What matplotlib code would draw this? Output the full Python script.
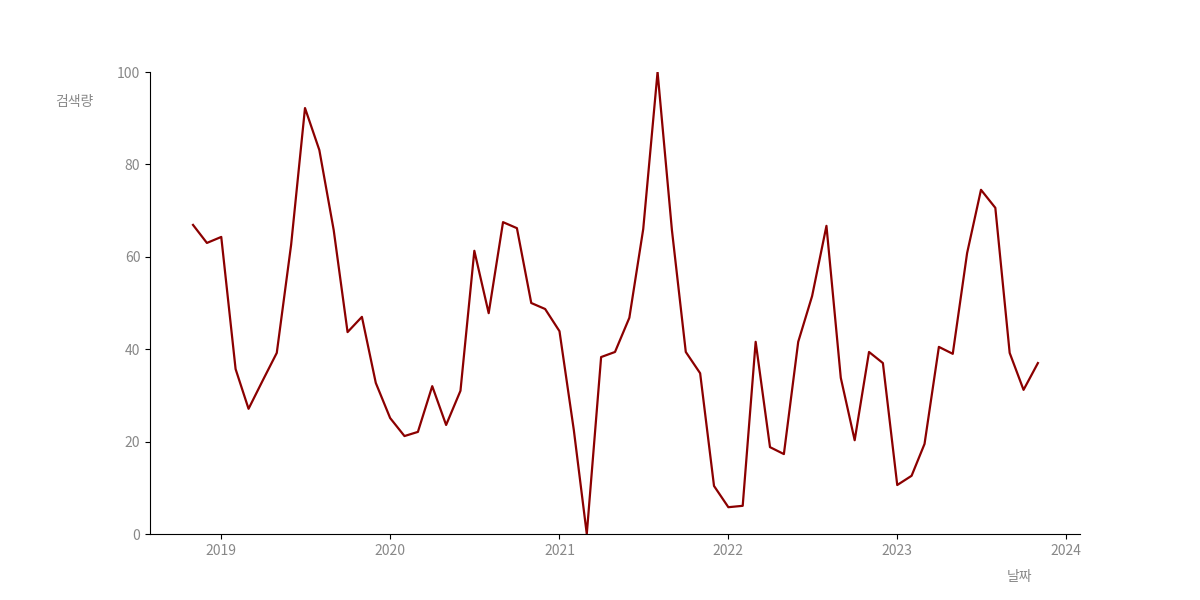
import matplotlib
matplotlib.use('Agg')
import matplotlib.pyplot as plt
import matplotlib.dates as mdates
import pandas as pd

plt.rcParams['font.family'] = ['Noto Sans CJK KR', 'DejaVu Sans']

# 월별 검색량 (2018-11 ~ 2023-11)
months = pd.date_range('2018-11-01', '2023-11-01', freq='MS')
volume = [66.9, 63.0, 64.3, 35.7, 27.1, 33.3, 39.2, 62.6, 92.2, 83.1, 65.8, 43.7,
          47.0, 32.7, 25.1, 21.2, 22.1, 32.0, 23.6, 31.0, 61.3, 47.8, 67.5, 66.2,
          50.0, 48.7, 43.9, 22.5, 0.0, 38.3, 39.4, 46.8, 66.0, 100.0, 65.8, 39.4,
          34.8, 10.4, 5.8, 6.1, 41.6, 18.8, 17.3, 41.6, 51.5, 66.7, 33.8, 20.3,
          39.4, 37.0, 10.6, 12.6, 19.5, 40.5, 39.0, 60.8, 74.5, 70.6, 39.2, 31.2,
          37.0]
y_ticks = [0, 20, 40, 60, 80, 100]

fig, ax = plt.subplots(figsize=(12, 6), dpi=100)
ax.plot(months, volume, color='#8B0000', linewidth=1.6)

ax.set_ylim(0, 100)
ax.set_yticks(y_ticks)
ax.set_xlim(pd.Timestamp('2018-07-31'), pd.Timestamp('2024-01-31'))
ax.xaxis.set_major_locator(mdates.YearLocator())
ax.xaxis.set_major_formatter(mdates.DateFormatter('%Y'))

for side in ['top', 'right']:
    ax.spines[side].set_visible(False)
ax.tick_params(labelcolor='#888888', labelsize=10)

ax.set_ylabel('검색량', rotation=0, color='#888888', fontsize=10)
ax.yaxis.set_label_coords(-0.081, 0.92)
ax.set_xlabel('날짜', color='#888888', fontsize=10)
ax.xaxis.set_label_coords(0.935, -0.078)

plt.savefig('out.png', dpi=100)
